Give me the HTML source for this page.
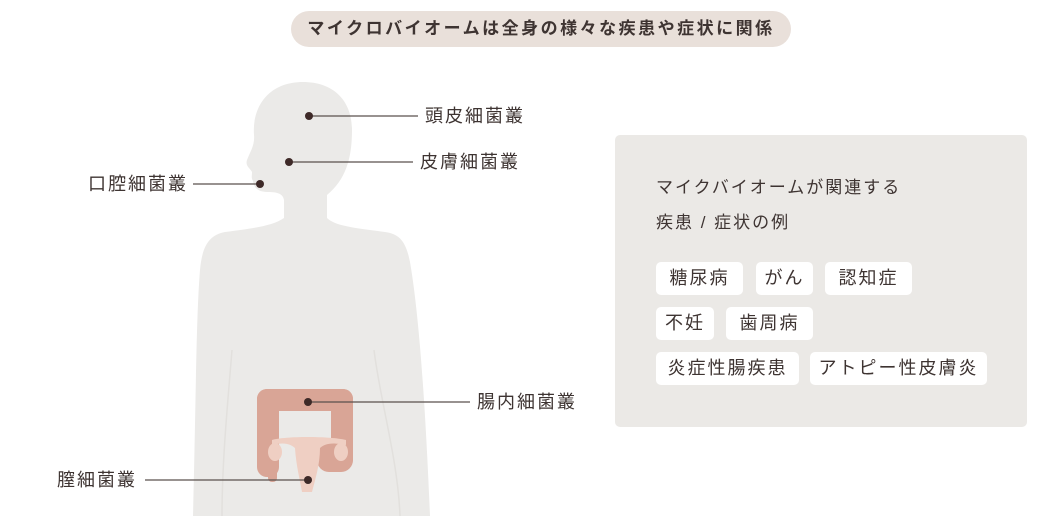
<!DOCTYPE html>
<html><head><meta charset="utf-8"><style>
body{margin:0;width:1063px;height:530px;background:#fff;position:relative;overflow:hidden;font-family:"Liberation Sans","Noto Sans CJK JP",sans-serif;color:#3e3432}
.a{position:absolute;white-space:nowrap}
.lbl{font-size:18px;letter-spacing:2px;line-height:20px}
.tag{position:absolute;background:#fff;border-radius:5px;height:33px;line-height:33px;font-size:18px;text-align:center;letter-spacing:2px}
</style></head><body>
<div class="a" style="left:291px;top:11px;width:500px;height:36px;border-radius:18px;background:#e9e0da;text-align:center;line-height:36px;font-size:17px;font-weight:bold;letter-spacing:2.5px">マイクロバイオームは全身の様々な疾患や症状に関係</div>
<svg class="a" style="left:0;top:0" width="1063" height="530">
<path fill="#ebeae8" d="M303 82 C270 82 252 105 254 135 C255 145 250 152 247 160 C245 166 250 168 252 172 C252 176 251 178 253 181 C254 188 258 192 268 192 C278 192 283 194 284 200 L284 218 C272 226 255 228 225 232 C208 235 202 248 200 270 C196 320 196 400 193 516 L430 516 C426 420 420 320 410 262 C406 242 400 234 385 232 C355 228 335 226 327 218 L327 195 C345 180 352 160 352 130 C352 100 333 82 303 82 Z"/>
<path fill="none" stroke="#e2e0dd" stroke-width="1.5" d="M232 350 C228 400 222 460 222 516 M374 350 C380 400 398 460 400 516"/>
<g fill="#d9a596">
<rect x="257" y="389" width="96" height="22" rx="10"/>
<rect x="257" y="389" width="22" height="88" rx="10"/>
<rect x="331" y="389" width="22" height="80" rx="10"/>
<rect x="317" y="440" width="36" height="32" rx="12"/>
<rect x="268" y="460" width="9" height="22" rx="4"/>
</g>
<g fill="#efcfc3">
<path d="M272 440 C285 436 330 436 346 440 L346 445 C330 442 325 444 320 448 C320 465 315 480 312 492 L302 492 C300 480 296 465 295 448 C290 444 285 442 272 445 Z"/>
<ellipse cx="275" cy="452" rx="7" ry="9"/><ellipse cx="341" cy="452" rx="7" ry="9"/>
</g>
<g stroke="#5a504d" stroke-width="1.3">
<line x1="309" y1="116" x2="418" y2="116"/>
<line x1="289" y1="162" x2="413" y2="162"/>
<line x1="193" y1="184" x2="259" y2="184"/>
<line x1="308" y1="402" x2="470" y2="402"/>
<line x1="145" y1="480" x2="308" y2="480"/>
</g>
<g fill="#3e2a28">
<circle cx="309" cy="116" r="4"/><circle cx="289" cy="162" r="4"/><circle cx="260" cy="184" r="4"/><circle cx="308" cy="402" r="4"/><circle cx="308" cy="480" r="4"/>
</g>
</svg>
<div class="a lbl" style="left:425px;top:106px">頭皮細菌叢</div>
<div class="a lbl" style="left:420px;top:152px">皮膚細菌叢</div>
<div class="a lbl" style="left:88px;top:174px">口腔細菌叢</div>
<div class="a lbl" style="left:477px;top:392px">腸内細菌叢</div>
<div class="a lbl" style="left:57px;top:470px">膣細菌叢</div>
<div class="a" style="left:615px;top:135px;width:412px;height:292px;background:#ebe9e6;border-radius:5px"></div>
<div class="a" style="left:656px;top:170px;font-size:17px;line-height:35px;letter-spacing:2px">マイクバイオームが関連する<br>疾患 / 症状の例</div>
<div class="tag" style="left:656px;top:262px;width:87px">糖尿病</div>
<div class="tag" style="left:756px;top:262px;width:57px">がん</div>
<div class="tag" style="left:825px;top:262px;width:87px">認知症</div>
<div class="tag" style="left:656px;top:307px;width:58px">不妊</div>
<div class="tag" style="left:726px;top:307px;width:87px">歯周病</div>
<div class="tag" style="left:656px;top:352px;width:143px">炎症性腸疾患</div>
<div class="tag" style="left:810px;top:352px;width:177px">アトピー性皮膚炎</div>
</body></html>
